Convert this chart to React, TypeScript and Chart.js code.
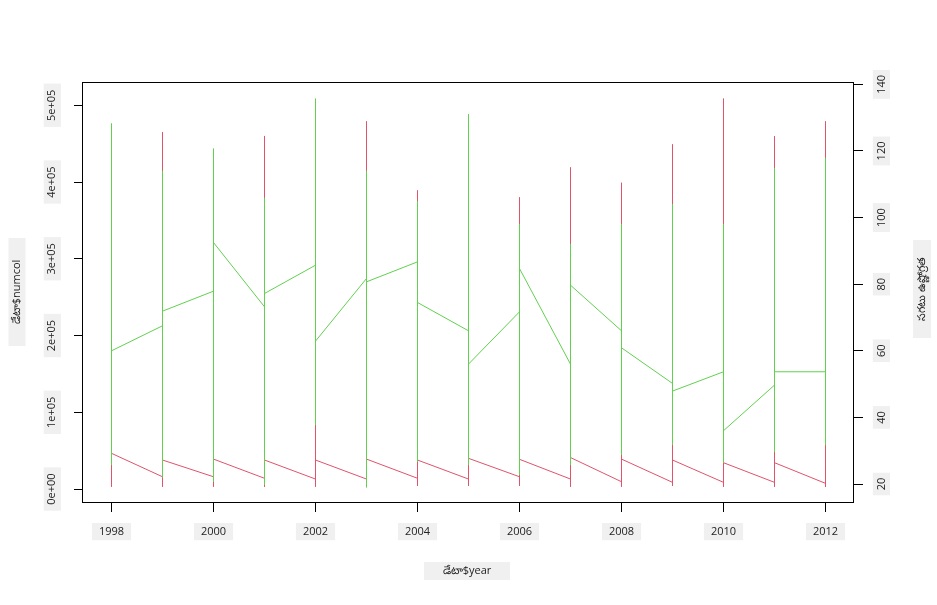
import React, { useEffect, useRef } from "react";
import { Chart, registerables } from "chart.js";

Chart.register(...registerables);

// ---------- data ----------
const years = [1998, 1999, 2000, 2001, 2002, 2003, 2004, 2005, 2006, 2007, 2008, 2009, 2010, 2011, 2012];
const xTickYears = [1998, 2000, 2002, 2004, 2006, 2008, 2010, 2012];
const leftTickValues = [0, 100000, 200000, 300000, 400000, 500000];
const rightTickValues = [20, 40, 60, 80, 100, 120, 140];

// numcol (left axis): first value in the year, max, min, last value in the year
const numFirst = [null, 16000, 16000, 14000, 13000, 13000, 14000, 13000, 16000, 13000, 9500, 8700, 8700, 8700, 7400];
const numMax = [470000, 465000, 430000, 460000, 480000, 479000, 389000, 470000, 380000, 419000, 399000, 449000, 508700, 459600, 479000];
const numMin = [3000, 3000, 3000, 3000, 3000, 3000, 4000, 4000, 4000, 3000, 3000, 4000, 3000, 3000, 3000];
const numLast = [46500, 37800, 39000, 37800, 37800, 39000, 37800, 40000, 38700, 41000, 39000, 37800, 34300, 34300, null];

// right-axis series: first value in the year, max, min, last value in the year
const rFirst = [null, 67.5, 77.9, 73.2, 85.7, 81.7, 86.7, 66, 71.7, 56, 66, 50.2, 53.7, 49.7, 53.7];
const rMax = [128.2, 114, 120.7, 105.9, 135.7, 114, 104.9, 131, 98, 92, 98, 104, 98, 114.9, 117.9];
const rMin = [25.7, 22, 20.7, 19.7, 37.7, 19, 26.7, 25.7, 22.7, 25.7, 28.7, 31.7, 26.3, 29.7, 31.7];
const rLast = [60, 71.9, 92.5, 77.2, 62.9, 80.7, 74.5, 56, 84.7, 79.7, 60.9, 47.9, 36, 53.7, null];

const xTitle = "డేటా$year";
const leftTitle = "డేటా$numcol";
const rightTitle = "సగటు ఉష్ణోగ్రత";

const RED = "#DF536B";
const GREEN = "#61D04F";
const FONT = "'Open Sans', 'Noto Sans', sans-serif";

function buildPoints(first: (number | null)[], max: number[], min: number[], last: (number | null)[]) {
  const pts: { x: number; y: number }[] = [];
  years.forEach((yr, i) => {
    if (first[i] !== null) pts.push({ x: yr, y: first[i] as number });
    pts.push({ x: yr, y: max[i] });
    pts.push({ x: yr, y: min[i] });
    if (last[i] !== null) pts.push({ x: yr, y: last[i] as number });
  });
  return pts;
}

function fmtExp(v: number) {
  if (v === 0) return "0e+00";
  const e = Math.floor(Math.log10(Math.abs(v)));
  const m = v / Math.pow(10, e);
  return `${Math.round(m)}e+${String(e).padStart(2, "0")}`;
}

function boxedText(ctx: CanvasRenderingContext2D, text: string, cx: number, cy: number, rot: number, bw: number, bh: number) {
  ctx.save();
  ctx.translate(cx, cy);
  ctx.rotate(rot);
  ctx.fillStyle = "#f0f0f0";
  ctx.fillRect(-bw / 2, -bh / 2, bw, bh);
  ctx.fillStyle = "#222";
  ctx.font = `11px ${FONT}`;
  ctx.textAlign = "center";
  ctx.textBaseline = "middle";
  ctx.fillText(text, 0, 0);
  ctx.restore();
}

const framePlugin = {
  id: "frameAndTitles",
  afterDraw(chart: any) {
    const { ctx, chartArea } = chart;
    ctx.save();
    ctx.strokeStyle = "#000";
    ctx.lineWidth = 1;
    const l = Math.round(chartArea.left) - 0.5;
    const t = Math.round(chartArea.top) - 0.5;
    const r = Math.round(chartArea.right) - 0.5;
    const b = Math.round(chartArea.bottom) - 0.5;
    ctx.strokeRect(l, t, r - l, b - t);
    ctx.restore();
    boxedText(ctx, xTitle, 467, 571, 0, 86, 18);
    boxedText(ctx, leftTitle, 17, 292, -Math.PI / 2, 108, 17);
    boxedText(ctx, rightTitle, 922, 289, -Math.PI / 2, 98, 18);
  },
};

const tickFont = { family: FONT, size: 11 };

// x range chosen so that each year falls on a pixel centre (51 px per year)
const X_MIN = 1998 - 28.5 / 51;
const X_MAX = X_MIN + 771 / 51;

export default function App() {
  const ref = useRef<HTMLCanvasElement | null>(null);
  useEffect(() => {
    if (!ref.current) return;
    const chart = new Chart(ref.current, {
      type: "line",
      data: {
        datasets: [
          {
            label: "right",
            data: buildPoints(rFirst, rMax, rMin, rLast),
            borderColor: GREEN,
            borderWidth: 1,
            pointRadius: 0,
            tension: 0,
            yAxisID: "y1",
            order: 0,
          },
          {
            label: "numcol",
            data: buildPoints(numFirst, numMax, numMin, numLast),
            borderColor: RED,
            borderWidth: 1,
            pointRadius: 0,
            tension: 0,
            yAxisID: "y",
            order: 1,
          },
        ],
      },
      options: {
        animation: false,
        responsive: false,
        layout: { padding: { top: 83, left: 0, right: 0, bottom: 0 } },
        plugins: { legend: { display: false }, tooltip: { enabled: false } },
        scales: {
          x: {
            type: "linear",
            min: X_MIN,
            max: X_MAX,
            afterBuildTicks: (s: any) => {
              s.ticks = xTickYears.map((v) => ({ value: v }));
            },
            afterFit: (s: any) => {
              s.height = 102;
            },
            border: { display: false },
            grid: { drawOnChartArea: false, drawTicks: true, tickLength: 9, color: "#000", lineWidth: 1 },
            ticks: {
              callback: (v: any) => String(v),
              autoSkip: false,
              minRotation: 0,
              maxRotation: 0,
              padding: 13,
              color: "#222",
              font: tickFont,
              showLabelBackdrop: true,
              backdropColor: "#f0f0f0",
              backdropPadding: { x: 7, y: 2 },
            },
          },
          y: {
            type: "linear",
            position: "left",
            min: -18200,
            max: 529000,
            afterBuildTicks: (s: any) => {
              s.ticks = leftTickValues.map((v) => ({ value: v }));
            },
            afterFit: (s: any) => {
              s.width = 83;
            },
            border: { display: false },
            grid: { drawOnChartArea: false, drawTicks: true, tickLength: 9, color: "#000", lineWidth: 1 },
            ticks: {
              callback: (v: any) => fmtExp(Number(v)),
              minRotation: 90,
              maxRotation: 90,
              crossAlign: "center",
              padding: 6,
              color: "#222",
              font: tickFont,
              showLabelBackdrop: true,
              backdropColor: "#f0f0f0",
              backdropPadding: { x: 6, y: 2 },
            },
          },
          y1: {
            type: "linear",
            position: "right",
            min: 14.3,
            max: 140.4,
            afterBuildTicks: (s: any) => {
              s.ticks = rightTickValues.map((v) => ({ value: v }));
            },
            afterFit: (s: any) => {
              s.width = 83;
            },
            border: { display: false },
            grid: { drawOnChartArea: false, drawTicks: true, tickLength: 9, color: "#000", lineWidth: 1 },
            ticks: {
              callback: (v: any) => String(v),
              minRotation: 90,
              maxRotation: 90,
              crossAlign: "center",
              padding: 9,
              color: "#222",
              font: tickFont,
              showLabelBackdrop: true,
              backdropColor: "#f0f0f0",
              backdropPadding: { x: 5, y: 2 },
            },
          },
        },
      } as any,
      plugins: [framePlugin],
    });
    return () => chart.destroy();
  }, []);
  return (
    <div style={{ position: "fixed", left: 0, top: 0, width: 937, height: 605, background: "#fff" }}>
      <canvas ref={ref} width={937} height={605} style={{ display: "block" }} />
    </div>
  );
}
